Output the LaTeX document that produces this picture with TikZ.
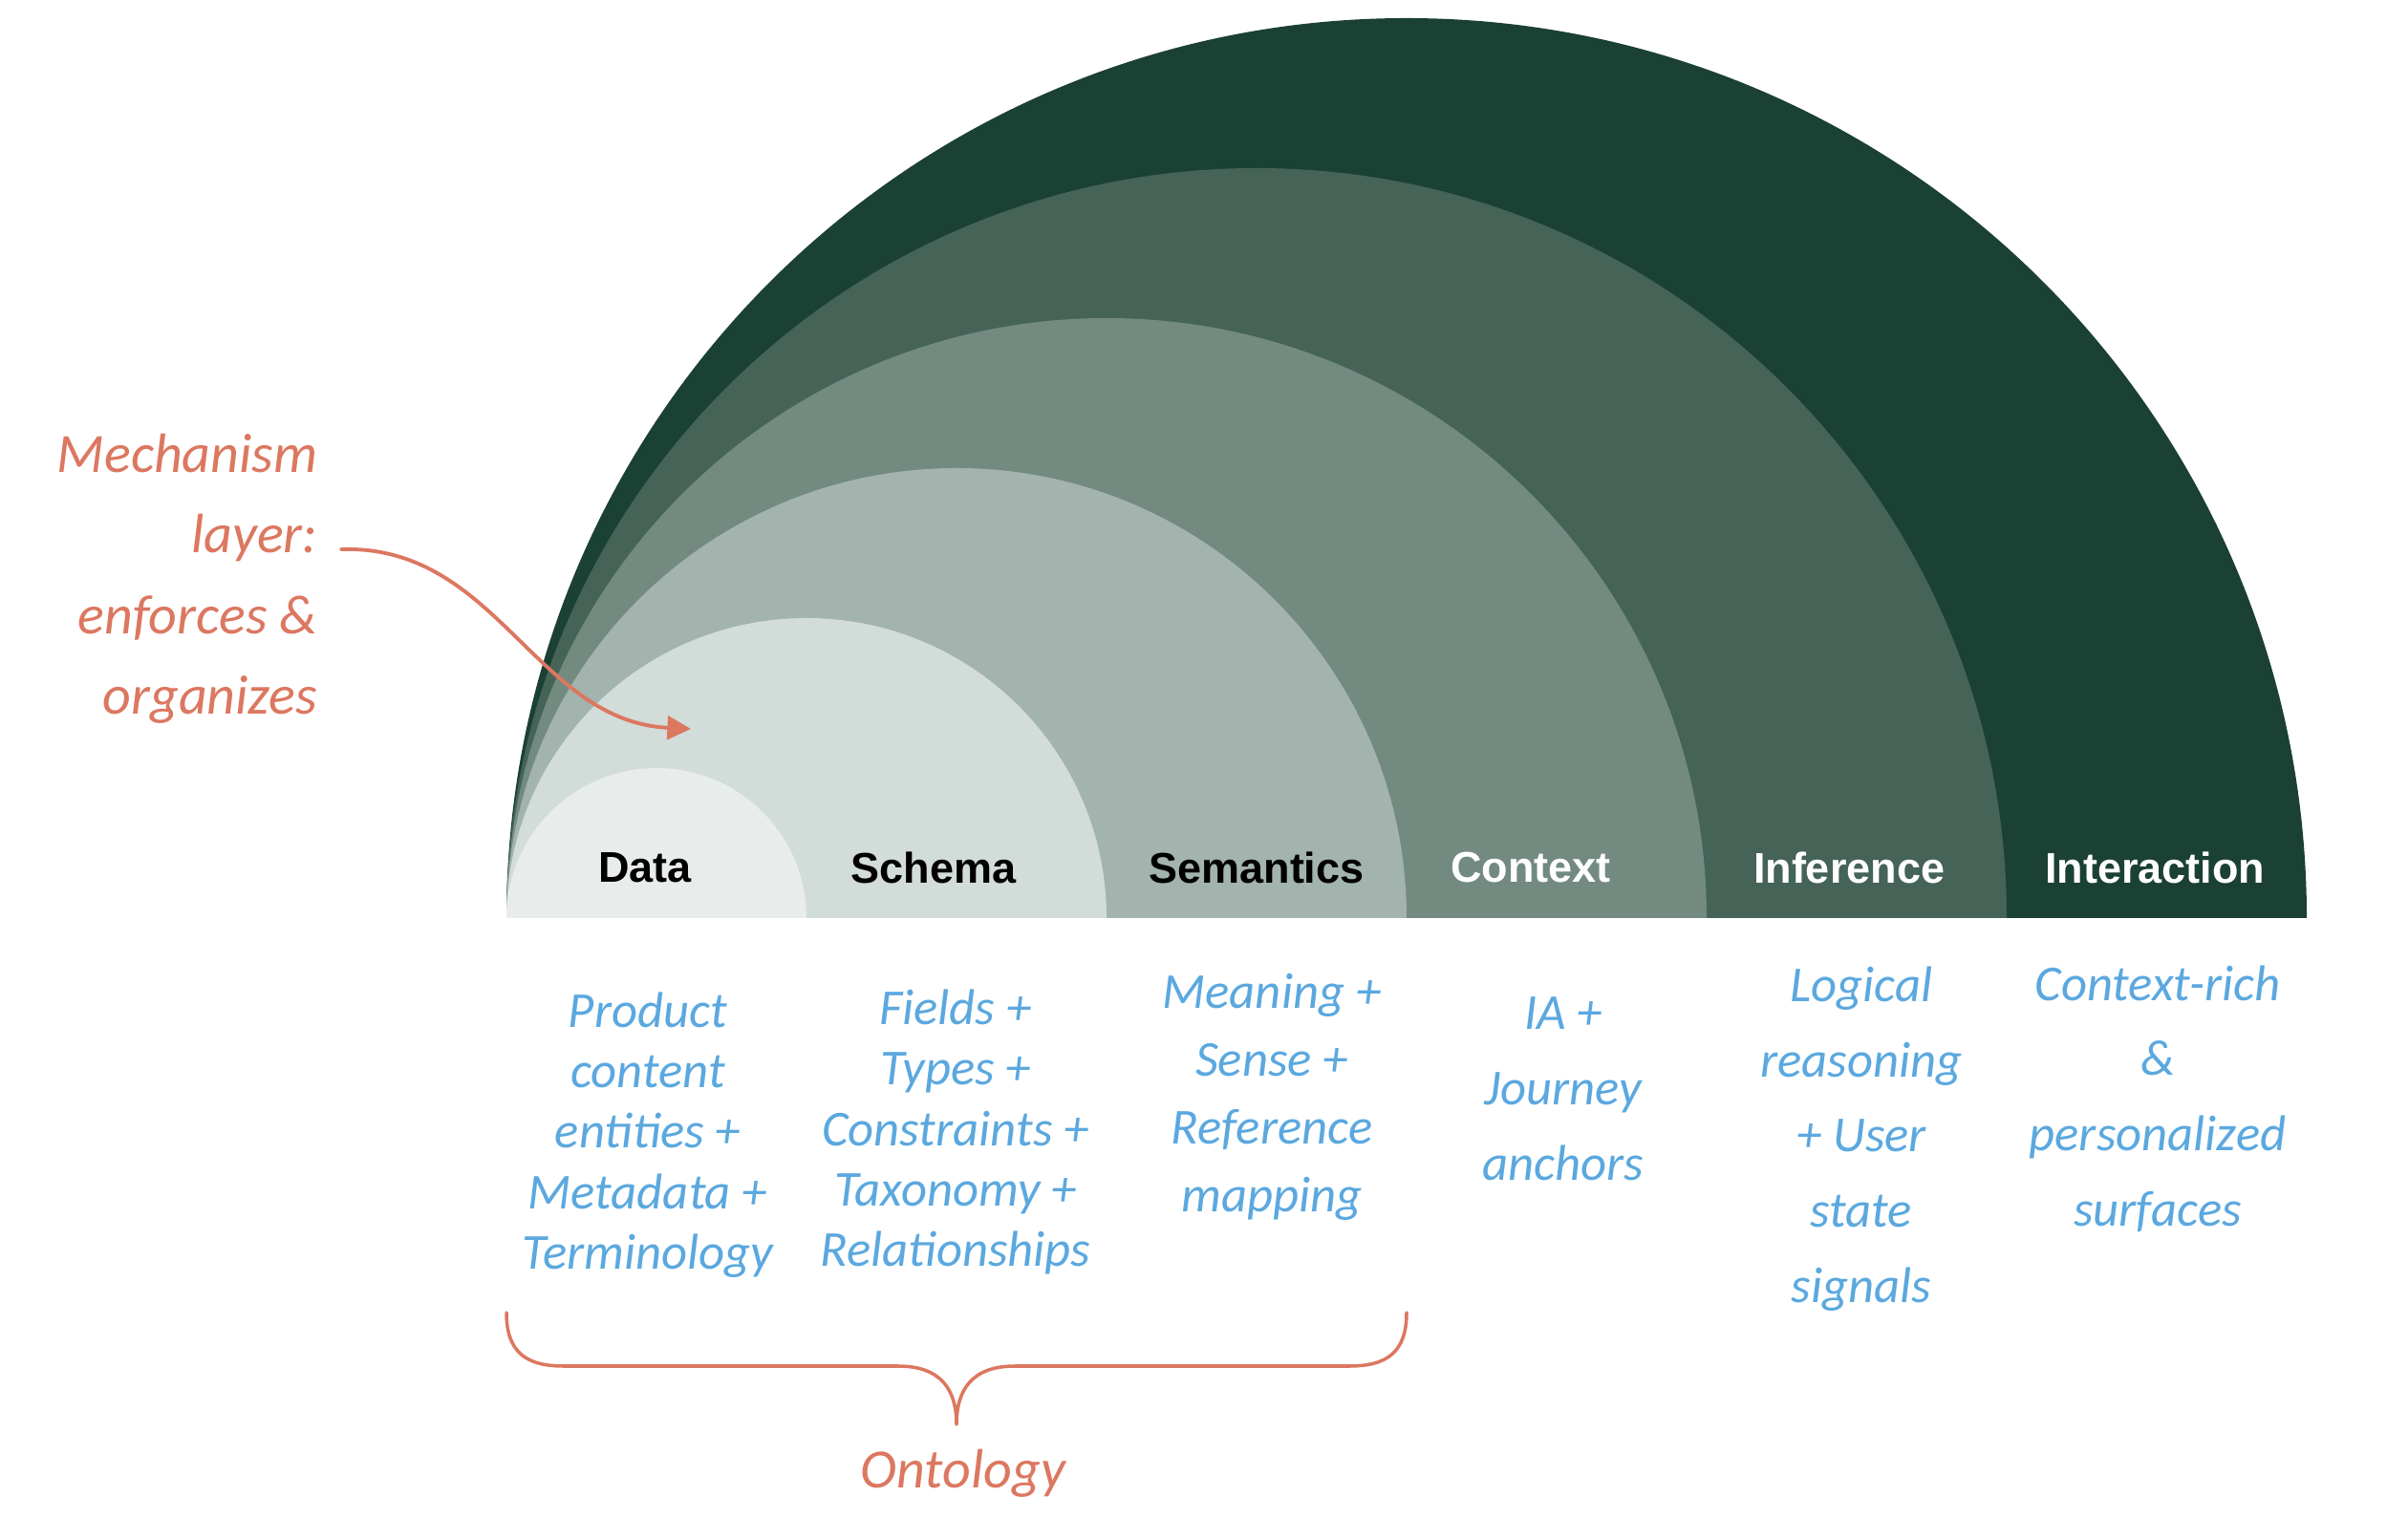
\documentclass[tikz,border=0pt]{standalone}
\usepackage{fontspec}
\setmainfont{Liberation Sans}
\newfontfamily\handfont{Carlito}
\usetikzlibrary{arrows.meta,calc}
\usepackage{xcolor}
\definecolor{layerA}{HTML}{E8ECEA}
\definecolor{layerB}{HTML}{D2DCD8}
\definecolor{layerC}{HTML}{A3B3AD}
\definecolor{layerD}{HTML}{738A81}
\definecolor{layerE}{HTML}{456357}
\definecolor{layerF}{HTML}{1B4034}
\definecolor{inkblue}{HTML}{5BA8DF}
\definecolor{inkred}{HTML}{DC7760}

\begin{document}
\begin{tikzpicture}[>=Latex, line cap=round, line join=round,
  layer/.style={font=\bfseries\fontsize{12.8}{15}\selectfont},
  note/.style={inkblue, align=center, inner sep=0pt,
    font=\handfont\itshape\fontsize{15}{#1}\selectfont},
  note/.default=18,
  remark/.style={inkred, inner sep=0pt,
    font=\handfont\itshape\fontsize{16.5}{24}\selectfont}]

\useasboundingbox (0,0) rectangle (25.2,16.1);

%==================================================
% Nested half discs, all touching at the left end
%==================================================
\coordinate (O) at (5.30,6.49);

\foreach \k/\c in {6/layerF,5/layerE,4/layerD,3/layerC,2/layerB,1/layerA}{
  \fill[\c] (O) arc (180:0:{1.57*\k}) -- cycle;
}

% Layer names
\node[layer, black] (data)        at (6.75,7.02)  {Data};
\node[layer, black] (schema)      at (9.77,7.02)  {Schema};
\node[layer, black] (semantics)   at (13.15,7.02) {Semantics};
\node[layer, white] (context)     at (16.02,7.02) {Context};
\node[layer, white] (inference)   at (19.35,7.02) {Inference};
\node[layer, white] (interaction) at (22.55,7.02) {Interaction};

%==================================================
% Hand notes under each layer
%==================================================
\node[note] (dataNote) at (6.78,4.22)
  {Product\\content\\entities +\\Metadata +\\Terminology};
\node[note] (schemaNote) at (10.00,4.25)
  {Fields +\\Types +\\Constraints +\\Taxonomy +\\Relationships};
\node[note=20.2] (semNote) at (13.31,4.62)
  {Meaning +\\Sense +\\Reference\\mapping};
\node[note=22.4] (ctxNote) at (16.36,4.70)
  {IA +\\Journey\\anchors};
\node[note=22.4] (infNote) at (19.48,4.18)
  {Logical\\reasoning\\+ User\\state\\signals};
\node[note=22.4] (actNote) at (22.58,4.60)
  {Context-rich\\\&\\personalized\\surfaces};

%==================================================
% Mechanism remark and its arrow
%==================================================
\node[remark, align=right, anchor=east] (mech) at (3.33,10.04)
  {Mechanism\\layer:\\enforces \&\\organizes};

\coordinate (mstart) at (3.57,10.35);
\coordinate (mtip)   at (7.23,8.47);

\draw[inkred, line width=1.1pt, -{Triangle[length=7pt,width=7pt]}]
  (mstart) .. controls (5.20,10.40) and (5.60,8.55) .. (mtip);

%==================================================
% Brace over Data, Schema and Semantics
%==================================================
\draw[inkred, line width=1pt]
  (5.30,2.36) .. controls (5.30,1.95) and (5.50,1.80) .. (5.90,1.80)
  -- (9.40,1.80)
  .. controls (9.85,1.80) and (10.01,1.55) .. (10.01,1.19)
  .. controls (10.01,1.55) and (10.17,1.80) .. (10.62,1.80)
  -- (14.12,1.80)
  .. controls (14.52,1.80) and (14.72,1.95) .. (14.72,2.36);

\node[remark] (onto) at (10.08,0.68) {Ontology};

\end{tikzpicture}
\end{document}
